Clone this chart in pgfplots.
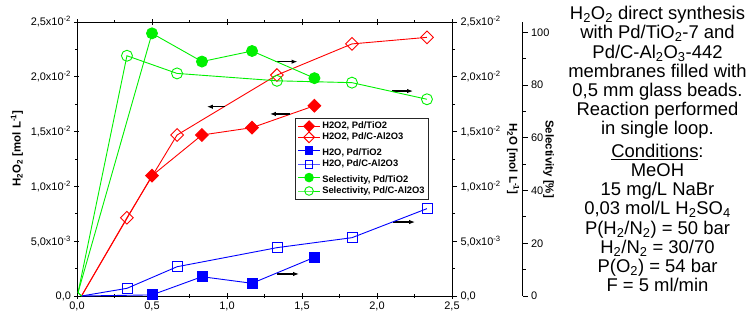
\documentclass[border=0pt]{standalone}
\usepackage{fontspec}
\setmainfont{Liberation Sans}
\usepackage{pgfplots}
\pgfplotsset{compat=1.18}
\usetikzlibrary{arrows.meta}
\definecolor{cred}{RGB}{255,0,0}
\definecolor{cblue}{RGB}{0,0,255}
\definecolor{cgreen}{RGB}{0,240,0}
\tikzset{lab/.style={font=\fontsize{11.5}{13}\selectfont\bfseries}}
\pgfplotsset{
  common/.style={scale only axis, width=375bp, height=274bp, xmin=0, xmax=2.5,
    tick label style={font=\fontsize{11}{13}\selectfont},
    /pgf/number format/assume math mode=true,
    axis line style={line width=0.9bp},
    tick style={line width=0.8bp, black},
    major tick length=5bp, minor tick length=3bp,
    scaled y ticks=false, clip=false},
  h2oticks/.style={ymin=0, ymax=0.025,
    ytick={0,0.005,0.01,0.015,0.02,0.025},
    yticklabels={{0,0},{5,0x10\textsuperscript{-3}},{1,0x10\textsuperscript{-2}},{1,5x10\textsuperscript{-2}},{2,0x10\textsuperscript{-2}},{2,5x10\textsuperscript{-2}}},
    minor ytick={0.0025,0.0075,0.0125,0.0175,0.0225}},
}
\begin{document}
\begin{tikzpicture}
% main axis: H2O2
\begin{axis}[common, h2oticks,
  xtick={0,0.5,1,1.5,2,2.5},
  xticklabels={{0,0},{0,5},{1,0},{1,5},{2,0},{2,5}},
  minor xtick={0.25,0.75,1.25,1.75,2.25},
  ytick pos=left, tick align=center,
  xtick pos=both,
  every axis y label/.style={at={(rel axis cs:0,0.538)}, xshift=-60bp, rotate=90, anchor=center, lab},
  ylabel={H\textsubscript{2}O\textsubscript{2} [mol L\textsuperscript{-1}]},
]
\addplot[cred, line width=0.9bp, mark=square*, mark indices={2,3,4,5}, mark options={rotate=45, mark size=4.5bp, solid}]
  coordinates {(0.03,0) (0.5,0.01098) (0.833,0.01469) (1.167,0.01536) (1.583,0.01736)};
\addplot[cred, line width=0.9bp, mark=square, mark indices={2,3,4,5,6}, mark options={rotate=45, mark size=4.5bp, fill=white, solid}]
  coordinates {(0.03,0) (0.333,0.00714) (0.667,0.01469) (1.333,0.02016) (1.833,0.0230) (2.333,0.0236)};
% arrows
\draw[-{Latex[length=6bp,width=4.5bp]}, line width=1.2bp] (axis cs:1.32,0.02138) -- (axis cs:1.47,0.02138);
\draw[-{Latex[length=6bp,width=4.5bp]}, line width=1.2bp] (axis cs:2.10,0.0187) -- (axis cs:2.24,0.0187);
\draw[-{Latex[length=6bp,width=4.5bp]}, line width=1.2bp] (axis cs:0.986,0.01727) -- (axis cs:0.866,0.01727);
\draw[-{Latex[length=6bp,width=4.5bp]}, line width=1.2bp] (axis cs:1.419,0.01661) -- (axis cs:1.286,0.01661);
\draw[-{Latex[length=6bp,width=4.5bp]}, line width=1.2bp] (axis cs:2.107,0.00675) -- (axis cs:2.254,0.00675);
\draw[-{Latex[length=6bp,width=4.5bp]}, line width=1.2bp] (axis cs:1.333,0.00201) -- (axis cs:1.480,0.00201);
\end{axis}
% H2O axis (right)
\begin{axis}[common, h2oticks,
  axis x line=none, axis y line*=right, tick align=outside,
  every axis y label/.style={at={(rel axis cs:1,0.5)}, xshift=61bp, rotate=-90, anchor=center, lab},
  ylabel={H\textsubscript{2}O [mol L\textsuperscript{-1}]},
]
\addplot[cblue, line width=0.9bp, mark=square*, mark indices={2,3,4,5}, mark options={mark size=5bp, solid}]
  coordinates {(0.03,0) (0.5,0.0001) (0.833,0.00176) (1.167,0.00116) (1.583,0.00353)};
\addplot[cblue, line width=0.9bp, mark=square, mark indices={2,3,4,5,6}, mark options={mark size=5bp, fill=white, solid}]
  coordinates {(0.03,0) (0.333,0.0007) (0.667,0.00267) (1.333,0.00441) (1.833,0.00532) (2.333,0.00797)};
\end{axis}
% selectivity data
\begin{axis}[common, ymin=0, ymax=103.9, axis x line=none, axis y line=none,
  legend cell align=left,
  legend style={at={(0.9387,0.6507)}, anchor=north east, draw=black!85, line width=0.8bp,
    font=\fontsize{9.4}{10.5}\selectfont\bfseries, inner sep=2bp, row sep=-1.2bp},
  legend image code/.code={\draw[mark repeat=2,mark phase=2] plot coordinates {(0cm,0cm) (0.38cm,0cm) (0.76cm,0cm)};},
]
\addplot[cgreen, line width=0.9bp, mark=*, mark indices={3,4,5,6}, mark options={mark size=5.5bp, solid}, forget plot]
  coordinates {(0.03,0) (0.007,1.3) (0.5,99.6) (0.833,88.9) (1.167,92.9) (1.583,82.6)};
\addplot[cgreen, line width=0.9bp, mark=o, mark indices={3,4,5,6,7}, mark options={mark size=5.5bp, fill=white, solid}, forget plot]
  coordinates {(0.03,0) (0.007,1.3) (0.333,91.1) (0.667,84.4) (1.333,81.6) (1.833,80.9) (2.333,74.6)};
\addlegendimage{cred, line width=0.9bp, mark=square*, mark options={rotate=45, mark size=3.8bp, solid}}
\addlegendentry{H2O2, Pd/TiO2}
\addlegendimage{cred, line width=0.9bp, mark=square, mark options={rotate=45, mark size=3.8bp, fill=white, solid}}
\addlegendentry{H2O2, Pd/C-Al2O3}
\addlegendimage{cblue, line width=0.9bp, mark=square*, mark options={mark size=3.8bp, solid}}
\addlegendentry{\rule{0pt}{11.5bp}H2O, Pd/TiO2}
\addlegendimage{cblue!65, line width=0.9bp, mark=square, mark options={mark size=3.8bp, fill=white, solid, draw=cblue}}
\addlegendentry{H2O, Pd/C-Al2O3}
\addlegendimage{cgreen, line width=0.9bp, mark=*, mark options={mark size=4.3bp, solid}}
\addlegendentry{\rule{0pt}{11.5bp}Selectivity, Pd/TiO2}
\addlegendimage{cgreen, line width=0.9bp, mark=o, mark options={mark size=4.3bp, fill=white, solid}}
\addlegendentry{Selectivity, Pd/C-Al2O3}
\end{axis}
% selectivity spine
\begin{axis}[common, at={(70.6bp,0)}, ymin=0, ymax=103.9, axis x line=none, axis y line*=right,
  tick align=outside,
  ytick={0,20,40,60,80,100}, minor ytick={10,30,50,70,90},
  every axis y label/.style={at={(rel axis cs:1,0.5)}, xshift=26bp, rotate=-90, anchor=center, lab},
  ylabel={Selectivity [\%]},
]
\addplot[draw=none] coordinates {(0,0)};
\end{axis}
\node[anchor=north, align=center, inner sep=0pt, font=\fontsize{18.5}{19.3}\selectfont] at (580.5bp,290bp)
 {H\textsubscript{2}O\textsubscript{2} direct synthesis\\
  with Pd/TiO\textsubscript{2}-7 and\\
  Pd/C-Al\textsubscript{2}O\textsubscript{3}-442\\
  membranes filled with\\
  0,5 mm glass beads.\\
  Reaction performed\\
  in single loop.\\[3pt]
  \underline{Conditions}:\\
  MeOH\\
  15 mg/L NaBr\\
  0,03 mol/L H\textsubscript{2}SO\textsubscript{4}\\
  P(H\textsubscript{2}/N\textsubscript{2}) = 50 bar\\
  H\textsubscript{2}/N\textsubscript{2} = 30/70\\
  P(O\textsubscript{2}) = 54 bar\\
  F = 5 ml/min};
\pgfresetboundingbox
\path[use as bounding box] (-77bp,-28bp) rectangle (678bp,296bp);
\end{tikzpicture}
\end{document}
